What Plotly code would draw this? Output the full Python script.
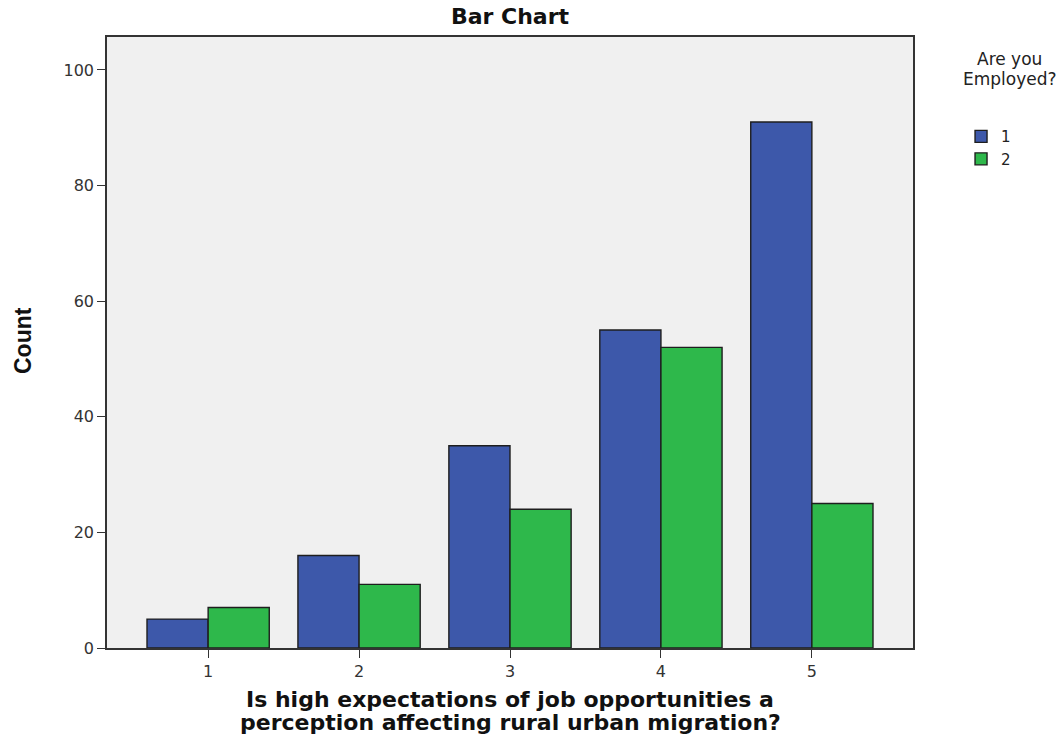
import plotly.graph_objects as go

categories = [1, 2, 3, 4, 5]
tick_labels = ["1", "2", "3", "4", "5"]
employed_1 = [5, 16, 35, 55, 91]
employed_2 = [7, 11, 24, 52, 25]
y_ticks = [0, 20, 40, 60, 80, 100]

fig = go.Figure()
fig.add_trace(go.Bar(x=categories, y=employed_1, name="1",
                     marker=dict(color="#3d58aa", line=dict(color="#1e1e1e", width=1.4))))
fig.add_trace(go.Bar(x=categories, y=employed_2, name="2",
                     marker=dict(color="#2eb84b", line=dict(color="#1e1e1e", width=1.4))))

title_font = dict(family="DejaVu Sans", size=22, color="#111")
legend_title_font = dict(family="DejaVu Sans", size=17, color="#222")
fig.update_layout(
    width=1062, height=742,
    margin=dict(l=107, r=149, t=37, b=94, autoexpand=False),
    paper_bgcolor="white", plot_bgcolor="#f0f0f0",
    barmode="group", bargap=0.19, bargroupgap=0,
    font=dict(family="DejaVu Sans", size=16, color="#333"),
    title=dict(text="<b>Bar Chart</b>", xref="paper", x=0.5, xanchor="center",
               yref="container", y=1 - 16 / 742, yanchor="middle",
               font=dict(family="DejaVu Sans", size=22, color="#111")),
    showlegend=True,
    legend=dict(x=1.0596, y=0.864, xanchor="left", yanchor="top",
                font=dict(size=15, color="#222"), itemwidth=30, tracegroupgap=0,
                bgcolor="rgba(0,0,0,0)"),
    annotations=[
        dict(text="Are you", xref="paper", yref="paper", x=1.12, y=(648 - 59) / 611,
             xanchor="center", yanchor="middle", showarrow=False, font=legend_title_font),
        dict(text="Employed?", xref="paper", yref="paper", x=1.12, y=(648 - 79) / 611,
             xanchor="center", yanchor="middle", showarrow=False, font=legend_title_font),
        dict(text="<b>Count</b>", xref="paper", yref="paper", x=(23 - 107) / 806, y=(648 - 341) / 611,
             xanchor="center", yanchor="middle", textangle=-90, showarrow=False,
             font=dict(family="Liberation Sans", size=23, color="#111")),
        dict(text="<b>Is high expectations of job opportunities a</b>", xref="paper", yref="paper",
             x=0.5, y=(648 - 699) / 611, xanchor="center", yanchor="middle", showarrow=False,
             font=title_font),
        dict(text="<b>perception affecting rural urban migration?</b>", xref="paper", yref="paper",
             x=0.5, y=(648 - 722) / 611, xanchor="center", yanchor="middle", showarrow=False,
             font=title_font),
    ],
)
fig.update_xaxes(range=[0.33, 5.67], tickvals=categories, ticktext=tick_labels,
                 showgrid=False, zeroline=False, showline=True, linecolor="#333", linewidth=1.5,
                 mirror=True, ticks="outside", ticklen=8, tickcolor="#333", automargin=False)
fig.update_yaxes(range=[0, 105.7], tickvals=y_ticks,
                 showgrid=False, zeroline=False, showline=True, linecolor="#333", linewidth=1.5,
                 mirror=True, ticks="outside", ticklen=8, tickcolor="#333", automargin=False)

fig.write_html("out.html", config={"displayModeBar": False},
               post_script="document.body.style.margin='0';document.body.style.overflow='hidden';")
